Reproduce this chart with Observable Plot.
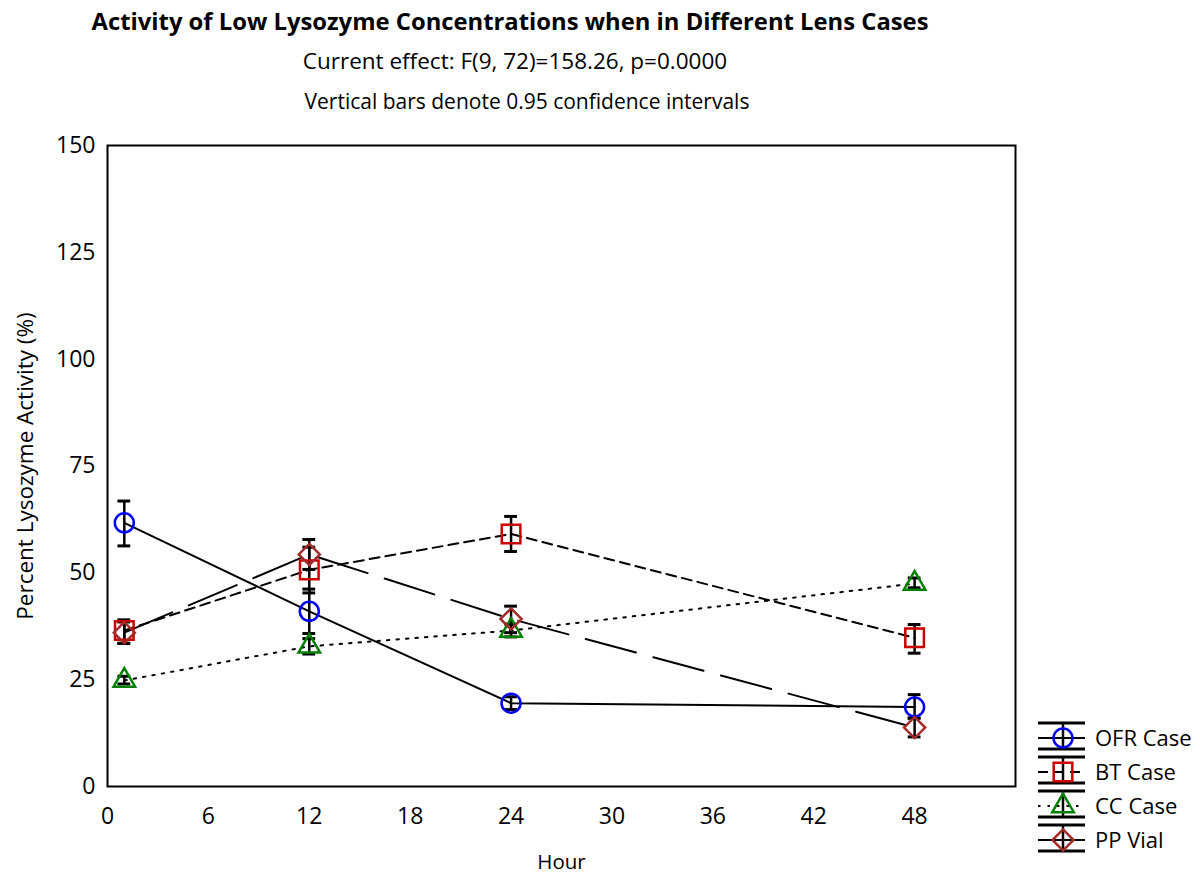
<!DOCTYPE html>
<html>
<head>
<meta charset="utf-8">
<script src="https://cdn.jsdelivr.net/npm/d3@7"></script>
<script src="https://cdn.jsdelivr.net/npm/@observablehq/plot@0.6"></script>
<style>
  body { margin: 0; background: #fff; }
  #wrap { position: relative; width: 1200px; height: 877px; font-family: "Open Sans", Lato, sans-serif; color: #000; }
  .hdr { position: absolute; left: 0; width: 1030px; text-align: center; white-space: nowrap; line-height: 30px; }
  #chart { position: absolute; left: 0; top: 110px; }
  #legend { position: absolute; left: 1030px; top: 715px; }
</style>
</head>
<body>
<div id="wrap">
  <div id="chart"></div>
  <div id="legend"></div>
  <div class="hdr" style="top:6px;left:-5px;font-weight:bold;font-size:23.8px;">Activity of Low Lysozyme Concentrations when in Different Lens Cases</div>
  <div class="hdr" style="top:46px;font-size:22.5px;">Current effect: F(9, 72)=158.26, p=0.0000</div>
  <div class="hdr" style="top:86px;font-size:21px;left:12px;">Vertical bars denote 0.95 confidence intervals</div>
</div>
<script>
// Sampling times (hours)
const hours = [1, 12, 24, 48];
const xTicks = [0, 6, 12, 18, 24, 30, 36, 42, 48];
const yTicks = [0, 25, 50, 75, 100, 125, 150];

// Series names
const seriesNames = ["OFR Case", "BT Case", "CC Case", "PP Vial"];

// Mean percent lysozyme activity and 95% confidence limits per series
const ofrMean = [61.7, 41.0, 19.5, 18.6];
const ofrLow  = [56.3, 35.8, 18.0, 16.0];
const ofrHigh = [66.8, 46.2, 21.0, 21.5];

const btMean = [36.5, 50.7, 59.1, 34.8];
const btLow  = [33.5, 45.3, 55.0, 31.2];
const btHigh = [39.0, 56.0, 63.2, 37.9];

const ccMean = [24.8, 32.8, 36.5, 47.5];
const ccLow  = [24.0, 31.0, 35.0, 46.5];
const ccHigh = [25.8, 34.6, 38.0, 48.8];

const ppMean = [36.0, 54.3, 39.2, 13.8];
const ppLow  = [33.5, 50.8, 36.0, 11.6];
const ppHigh = [38.5, 57.8, 42.2, 16.0];

// Drawing style for each series
const styles = {
  "OFR Case": { color: "#0000ff", symbol: "circle",   r: 9.5, dash: null },
  "BT Case":  { color: "#cc0000", symbol: "square",   r: 10.5, dash: "10,6" },
  "CC Case":  { color: "#008000", symbol: "triangle", r: 8,   dash: "2.5,7" },
  "PP Vial":  { color: "#a52a2a", symbol: "diamond2", r: 9.5, dash: "52,18" }
};

const table = [
  ["OFR Case", ofrMean, ofrLow, ofrHigh],
  ["BT Case", btMean, btLow, btHigh],
  ["CC Case", ccMean, ccLow, ccHigh],
  ["PP Vial", ppMean, ppLow, ppHigh]
];
const rows = table.flatMap(([series, m, lo, hi]) =>
  hours.map((h, i) => ({ series, hour: h, mean: m[i], lo: lo[i], hi: hi[i] }))
);

const capHalf = 0.38; // half width of error-bar caps, in hours

const lineMarks = seriesNames.map(s => Plot.line(rows.filter(d => d.series === s), {
  x: "hour", y: "mean", stroke: "black", strokeWidth: 2,
  strokeDasharray: styles[s].dash ?? undefined
}));

const dotMarks = seriesNames.map(s => Plot.dot(rows.filter(d => d.series === s), {
  x: "hour", y: "mean", symbol: () => styles[s].symbol, r: styles[s].r,
  stroke: styles[s].color, strokeWidth: 2.5, fill: "none"
}));

const chart = Plot.plot({
  width: 1200,
  height: 767,
  marginLeft: 107,
  marginRight: 185,
  marginTop: 35,
  marginBottom: 91,
  style: { fontSize: "23px", fontFamily: "'Open Sans', Lato, sans-serif", color: "black", background: "transparent" },
  symbol: { type: "identity" },
  x: { domain: [0, 54], ticks: xTicks, tickSize: 0, tickPadding: 21, label: null },
  y: { domain: [0, 150], ticks: yTicks, tickSize: 0, tickPadding: 12, label: null },
  marks: [
    ...lineMarks,
    Plot.ruleX(rows, { x: "hour", y1: "lo", y2: "hi", stroke: "black", strokeWidth: 2.5 }),
    Plot.ruleY(rows, { y: "lo", x1: d => d.hour - capHalf, x2: d => d.hour + capHalf, stroke: "black", strokeWidth: 3 }),
    Plot.ruleY(rows, { y: "hi", x1: d => d.hour - capHalf, x2: d => d.hour + capHalf, stroke: "black", strokeWidth: 3 }),
    ...dotMarks,
    Plot.frame({ stroke: "black", strokeWidth: 2 }),
    Plot.text(["Percent Lysozyme Activity (%)"], { frameAnchor: "left", textAnchor: "middle", rotate: -90, dx: -82, fontSize: 22.5 }),
    Plot.text(["Hour"], { frameAnchor: "bottom", dy: 82, fontSize: 20.5 })
  ]
});
document.getElementById("chart").appendChild(chart);

// Legend: error-bar glyph, line sample, marker and name for each series
const lg = d3.select("#legend").append("svg").attr("width", 170).attr("height", 150)
  .style("font-family", "'Open Sans', Lato, sans-serif").style("font-size", "22px");
seriesNames.forEach((s, i) => {
  const st = styles[s];
  const cy = 23 + i * 34;
  const g = lg.append("g").attr("transform", `translate(0,${cy})`);
  g.append("line").attr("x1", 8).attr("x2", 55).attr("y1", -15).attr("y2", -15).attr("stroke", "black").attr("stroke-width", 3);
  g.append("line").attr("x1", 8).attr("x2", 55).attr("y1", 11).attr("y2", 11).attr("stroke", "black").attr("stroke-width", 3);
  g.append("line").attr("x1", 33).attr("x2", 33).attr("y1", -15).attr("y2", 11).attr("stroke", "black").attr("stroke-width", 2.5);
  g.append("line").attr("x1", 8).attr("x2", 55).attr("y1", 0).attr("y2", 0).attr("stroke", "black").attr("stroke-width", 2)
    .attr("stroke-dasharray", st.dash);
  const sym = { circle: d3.symbolCircle, square: d3.symbolSquare, triangle: d3.symbolTriangle, diamond2: d3.symbolDiamond2 }[st.symbol];
  g.append("path").attr("transform", "translate(33,0)")
    .attr("d", d3.symbol(sym, Math.PI * st.r * st.r)())
    .attr("fill", "none").attr("stroke", st.color).attr("stroke-width", 2.5);
  g.append("text").attr("x", 65).attr("y", 0).attr("dy", "0.35em").text(s);
});
</script>
</body>
</html>
